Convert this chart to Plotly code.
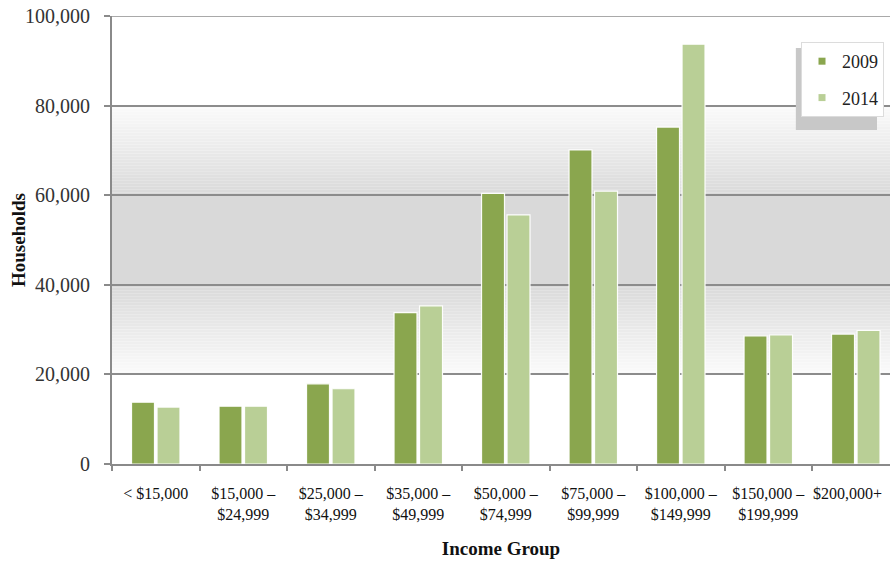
import plotly.graph_objects as go

categories = ["< $15,000", "$15,000 –<br>$24,999", "$25,000 –<br>$34,999",
              "$35,000 –<br>$49,999", "$50,000 –<br>$74,999", "$75,000 –<br>$99,999",
              "$100,000 –<br>$149,999", "$150,000 –<br>$199,999", "$200,000+"]
households_2009 = [13800, 12900, 17900, 33800, 60400, 70100, 75200, 28600, 29000]
households_2014 = [12700, 12900, 16800, 35300, 55600, 60900, 93700, 28800, 29800]
y_ticks = [0, 20000, 40000, 60000, 80000, 100000]

C2009 = "#8AA64E"
C2014 = "#B9CF96"
FONT = "Liberation Serif"

# the last category label is drawn as an annotation (nudged left so it stays on the page)
tick_text = categories[:-1] + [""]

fig = go.Figure()
fig.add_trace(go.Bar(x=categories, y=households_2009, name="2009", marker=dict(color=C2009, line=dict(color="rgba(255,255,255,0.95)", width=1.2)), showlegend=False))
fig.add_trace(go.Bar(x=categories, y=households_2014, name="2014", marker=dict(color=C2014, line=dict(color="rgba(255,255,255,0.95)", width=1.2)), showlegend=False))
# legend entries with small square markers
for nm, col in (("2009", C2009), ("2014", C2014)):
    fig.add_trace(go.Scatter(x=[None], y=[None], mode="markers", name=nm, legendgroup=nm,
                             marker=dict(symbol="square", size=7, color=col)))

# gradient background bands (white -> gray -> white)
shapes = []
N = 30
def gray(t):
    v = int(round(251 - (251 - 217) * t))
    return f"rgb({v},{v},{v})"
for i in range(N):
    a = 80000 - 20000 * i / N
    b = 80000 - 20000 * (i + 1) / N
    shapes.append(dict(type="rect", xref="paper", yref="y", x0=0, x1=1, y0=b, y1=a,
                       fillcolor=gray((i + 0.5) / N), line=dict(width=0), layer="below"))
shapes.append(dict(type="rect", xref="paper", yref="y", x0=0, x1=1, y0=40000, y1=60000,
                   fillcolor=gray(1), line=dict(width=0), layer="below"))
for i in range(N):
    a = 40000 - 20000 * i / N
    b = 40000 - 20000 * (i + 1) / N
    shapes.append(dict(type="rect", xref="paper", yref="y", x0=0, x1=1, y0=b, y1=a,
                       fillcolor=gray(1 - (i + 0.5) / N), line=dict(width=0), layer="below"))
# top gridline at 100,000
shapes.append(dict(type="line", xref="paper", yref="y", x0=0, x1=1, y0=y_ticks[-1], y1=y_ticks[-1],
                   line=dict(color="#8c8c8c", width=1.6), layer="between"))
# legend shadow
shapes.append(dict(type="rect", xref="paper", yref="paper", x0=0.879, x1=0.9833, y0=0.7455, y1=0.9286,
                   fillcolor="#c8c8c8", line=dict(width=0), layer="above"))

fig.update_layout(
    width=890, height=562,
    margin=dict(l=112, r=0, t=16, b=98, autoexpand=False),
    paper_bgcolor="white", plot_bgcolor="white",
    barmode="group", bargap=0.417, bargroupgap=0.1,
    shapes=shapes,
    font=dict(family=FONT, color="#222222"),
    legend=dict(x=0.9923, xanchor="right", y=0.942, yanchor="top",
                bgcolor="white", bordercolor="#dcdcdc", borderwidth=1,
                font=dict(family=FONT, size=18, color="#222222"),
                tracegroupgap=10, itemwidth=30),
    annotations=[
        dict(text="<b>Households</b>", xref="paper", yref="paper", x=-0.1208, y=0.5,
             xanchor="center", yanchor="middle", textangle=-90, showarrow=False,
             font=dict(family=FONT, size=19, color="#111111")),
        dict(text=categories[-1], xref="x", yref="paper", x=categories[-1], y=0,
             xanchor="center", yanchor="middle", yshift=-29, xshift=-8, showarrow=False,
             font=dict(family=FONT, size=16, color="#111111")),
    ],
    xaxis=dict(range=[-0.5, 8.391], automargin=False, showline=True, linecolor="#8a8a8a", linewidth=2,
               tickmode="array", tickvals=categories, ticktext=tick_text, tickangle=0,
               ticks="outside", tickson="boundaries", ticklen=5, tickcolor="#8a8a8a", tickwidth=1.5,
               tickfont=dict(family=FONT, size=16, color="#111111"), ticklabelstandoff=14,
               showgrid=False,
               title=dict(text="<b>Income Group</b>", font=dict(family=FONT, size=19, color="#111111"), standoff=20)),
    yaxis=dict(range=[0, 100000], automargin=False, tickvals=y_ticks, tickformat=",d", ticklabeloverflow="allow",
               showline=True, linecolor="#8a8a8a", linewidth=2,
               ticks="outside", ticklen=6, tickcolor="#8a8a8a", tickwidth=1.5,
               tickfont=dict(family=FONT, size=20, color="#333333"), ticklabelstandoff=10,
               showgrid=True, gridcolor="#8c8c8c", gridwidth=1.6, zeroline=False),
)

fig.write_html("out.html", config={"displayModeBar": False},
               post_script="document.body.style.margin='0';")
